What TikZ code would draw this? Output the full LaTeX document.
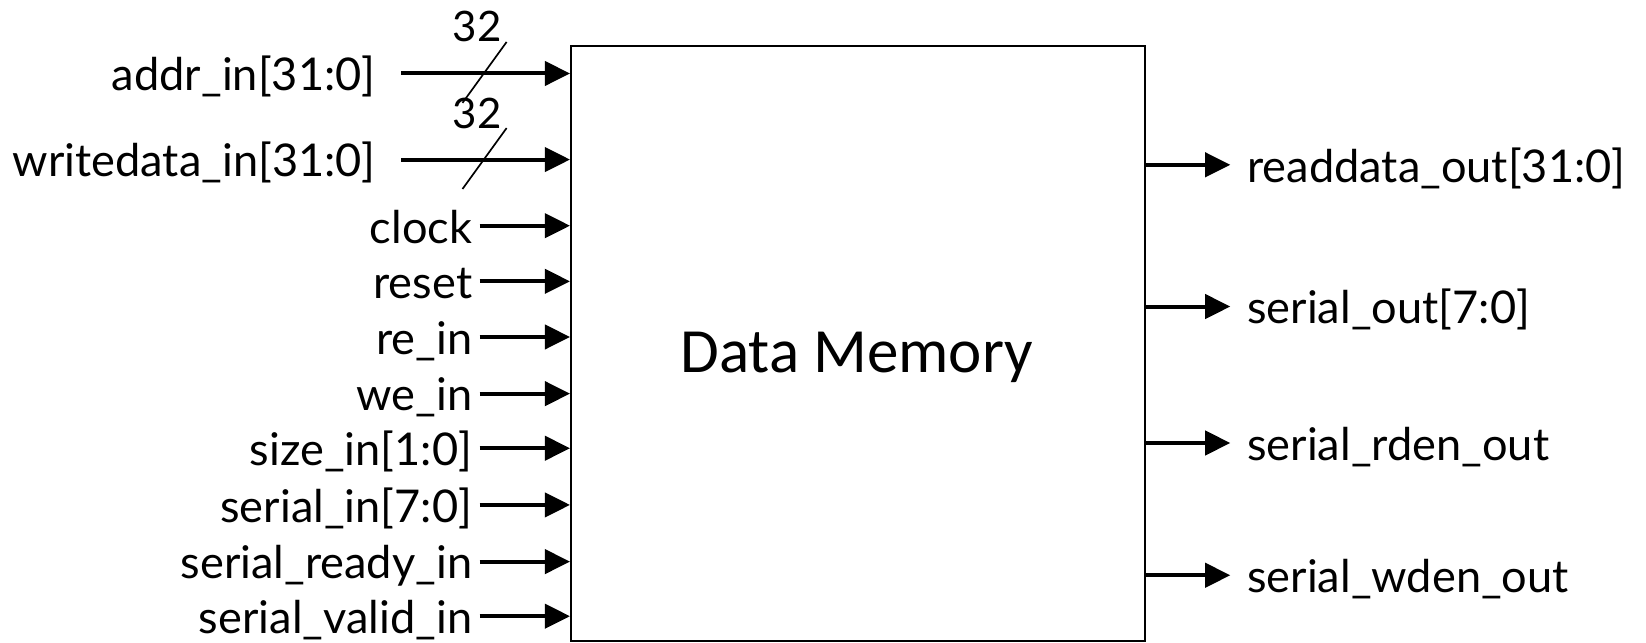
\documentclass[tikz,border=0pt]{standalone}
\usepackage{fontspec}
\setmainfont{Lato}
\newfontfamily\titlefont{Carlito}
\usetikzlibrary{arrows.meta,calc}
\begin{document}
\begin{tikzpicture}[x=1pt,y=-1pt,
  sig/.style={line width=3.8pt,-{Triangle[length=24pt,width=23pt]}},
  lbl/.style={font=\fontsize{43}{45}\selectfont,inner sep=0pt,text height=37pt,text depth=4pt},
  inlbl/.style={lbl,anchor=east},
  outlbl/.style={lbl,anchor=west},
  busmark/.style={line width=1.6pt},
  block/.style={draw,line width=2pt,inner sep=0pt,anchor=north west}]
\useasboundingbox (0,0) rectangle (1568,612);

% memory block
\node[block,minimum width=547pt,minimum height=567pt] (mem) at (543,43) {};
\node[font=\titlefont\fontsize{60}{62}\selectfont,anchor=base] (title) at (816,355) {Data Memory};

% bus inputs
\node[inlbl] (addr) at (358,70) {addr\_in[31:0]};
\node[inlbl] (wdata) at (358,152) {writedata\_in[31:0]};
\foreach \n in {addr,wdata}{
  \draw[sig,shorten <=24pt] (\n.east) -- coordinate[pos=0.56] (\n-bus) (\n.east -| mem.west);
  \draw[busmark] (\n-bus) +(-21,28) -- +(21,-30);
  \node[font=\fontsize{40}{42}\selectfont,inner sep=0pt,text height=36pt,text depth=4pt] (\n-w) at ([shift={(-7,-46)}]\n-bus) {32};
}

% single-bit and narrow inputs
\node[inlbl] (clk) at (450,215) {clock};
\node[inlbl] (rst) at (450,268) {reset};
\node[inlbl] (re) at (450,321) {re\_in};
\node[inlbl] (we) at (450,375) {we\_in};
\node[inlbl] (size) at (450,427) {size\_in[1:0]};
\node[inlbl] (sin) at (450,481) {serial\_in[7:0]};
\node[inlbl] (srdy) at (450,535) {serial\_ready\_in};
\node[inlbl] (sval) at (450,587) {serial\_valid\_in};
\foreach \n in {clk,rst,re,we,size,sin,srdy,sval}
  \draw[sig,shorten <=7pt] (\n.east) -- (\n.east -| mem.west);

% outputs
\node[outlbl] (rdata) at (1188,157) {readdata\_out[31:0]};
\node[outlbl] (sout) at (1188,292) {serial\_out[7:0]};
\node[outlbl] (rden) at (1188,422) {serial\_rden\_out};
\node[outlbl] (wden) at (1188,548) {serial\_wden\_out};
\foreach \n in {rdata,sout,rden,wden}
  \draw[sig,shorten >=16pt] (\n.west -| mem.east) -- (\n.west);
\end{tikzpicture}
\end{document}
